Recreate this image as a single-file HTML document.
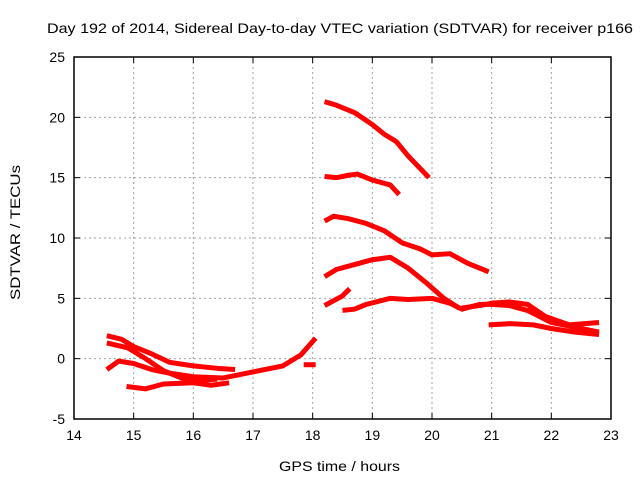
<!DOCTYPE html>
<html><head><meta charset="utf-8"><style>
body{margin:0;background:#fff;}
svg{font-family:"Liberation Sans",sans-serif;}
</style></head><body>
<svg id="chart" width="640" height="480" xmlns="http://www.w3.org/2000/svg">
<rect width="640" height="480" fill="#fff"/>
<text x="47" y="33" font-size="14" textLength="586" lengthAdjust="spacingAndGlyphs">Day 192 of 2014, Sidereal Day-to-day VTEC variation (SDTVAR) for receiver p166</text>
<text x="279" y="471" font-size="14" textLength="121" lengthAdjust="spacingAndGlyphs">GPS time / hours</text>
<text transform="translate(20,300) rotate(-90)" font-size="14" textLength="135" lengthAdjust="spacingAndGlyphs">SDTVAR / TECUs</text>
<g id="grid"></g><g id="marks"></g><g id="axes"></g>
</svg>
<script>
const xTicks=[14,15,16,17,18,19,20,21,22,23];
const yTicks=[-5,0,5,10,15,20,25];
const track1=[[18.2,21.3],[18.4,21.0],[18.7,20.4],[19.0,19.4],[19.2,18.6],[19.4,18.0],[19.6,16.8],[19.95,15.0]];
const track2=[[18.2,15.1],[18.4,15.0],[18.6,15.2],[18.75,15.3],[19.0,14.8],[19.3,14.4],[19.45,13.6]];
const track3=[[18.2,11.4],[18.35,11.8],[18.6,11.6],[18.9,11.2],[19.2,10.6],[19.5,9.6],[19.8,9.1],[20.0,8.6],[20.3,8.7],[20.6,7.9],[20.95,7.2]];
const track4=[[18.2,6.8],[18.4,7.4],[18.7,7.8],[19.0,8.2],[19.3,8.4],[19.6,7.5],[19.9,6.3],[20.2,5.0],[20.45,4.2]];
const track5=[[18.2,4.4],[18.5,5.2],[18.62,5.8]];
const track6=[[18.5,4.0],[18.7,4.1],[18.9,4.5],[19.3,5.0],[19.6,4.9],[20.0,5.0],[20.3,4.6],[20.5,4.1],[20.8,4.5],[21.0,4.5],[21.3,4.4],[21.6,4.0],[22.0,3.0],[22.4,2.6],[22.8,2.2]];
const track7=[[20.5,4.2],[20.8,4.4],[21.0,4.6],[21.3,4.7],[21.6,4.5],[21.9,3.5],[22.3,2.8],[22.8,3.0]];
const track8=[[20.95,2.8],[21.3,2.9],[21.7,2.8],[22.0,2.5],[22.4,2.2],[22.8,2.0]];
const track9=[[14.55,1.9],[14.8,1.6],[15.0,1.0],[15.3,0.4],[15.6,-0.3],[16.0,-0.6],[16.4,-0.8],[16.7,-0.9]];
const track10=[[14.55,1.3],[14.9,0.9],[15.2,0.0],[15.5,-1.0],[15.8,-1.6],[16.1,-1.8],[16.4,-1.7]];
const track11=[[14.55,-0.9],[14.75,-0.2],[15.0,-0.4],[15.3,-0.9],[15.6,-1.2],[16.0,-1.5],[16.5,-1.6],[17.0,-1.1],[17.5,-0.6],[17.8,0.3],[18.05,1.7]];
const track12=[[14.88,-2.3],[15.2,-2.5],[15.5,-2.1],[16.0,-2.0],[16.3,-2.2],[16.6,-2.0]];
const track13=[[17.85,-0.5],[18.05,-0.5]];
const tracks=[track1,track2,track3,track4,track5,track6,track7,track8,track9,track10,track11,track12,track13];
const X0=74,X1=611,Y0=419,Y1=57;
const sx=v=>X0+(v-14)/(23-14)*(X1-X0);
const sy=v=>Y0-(v+5)/30*(Y0-Y1);
const NS="http://www.w3.org/2000/svg";
function mk(t,a,p){const e=document.createElementNS(NS,t);for(const k in a)e.setAttribute(k,a[k]);p.appendChild(e);return e;}
const grid=document.getElementById('grid'),axes=document.getElementById('axes'),marks=document.getElementById('marks');
xTicks.forEach(t=>{const x=sx(t);
 if(t>14&&t<23){const l=mk('line',{x1:x,x2:x,y1:Y1,y2:Y0,stroke:'#a0a0a0','stroke-dasharray':'2,3'},grid);
 
 }
 mk('line',{x1:x,x2:x,y1:Y0,y2:Y0-6,stroke:'#000'},axes);
 mk('line',{x1:x,x2:x,y1:Y1,y2:Y1+6,stroke:'#000'},axes);
 const tx=mk('text',{x:x,y:Y0+21,'font-size':14,'text-anchor':'middle'},axes);tx.textContent=t;
 
 
});
yTicks.forEach(t=>{const y=sy(t);
 if(t>-5&&t<25){const l=mk('line',{x1:X0,x2:X1,y1:y,y2:y,stroke:'#a0a0a0','stroke-dasharray':'2,3'},grid);
 
 }
 mk('line',{x1:X0,x2:X0+6,y1:y,y2:y,stroke:'#000'},axes);
 mk('line',{x1:X1,x2:X1-6,y1:y,y2:y,stroke:'#000'},axes);
 const tx=mk('text',{x:X0-9,y:y+5,'font-size':14,'text-anchor':'end'},axes);tx.textContent=t;
 
 
});
const fr=mk('rect',{x:X0,y:Y1,width:X1-X0,height:Y0-Y1,fill:'none',stroke:'#000','stroke-width':1.5},axes);


tracks.forEach((tr,i)=>{
 const p=mk('polyline',{points:tr.map(d=>sx(d[0])+','+sy(d[1])).join(' '),fill:'none',stroke:'#ff0000','stroke-width':5,'stroke-linejoin':'round'},marks);
 
 
});
</script>
</body></html>
